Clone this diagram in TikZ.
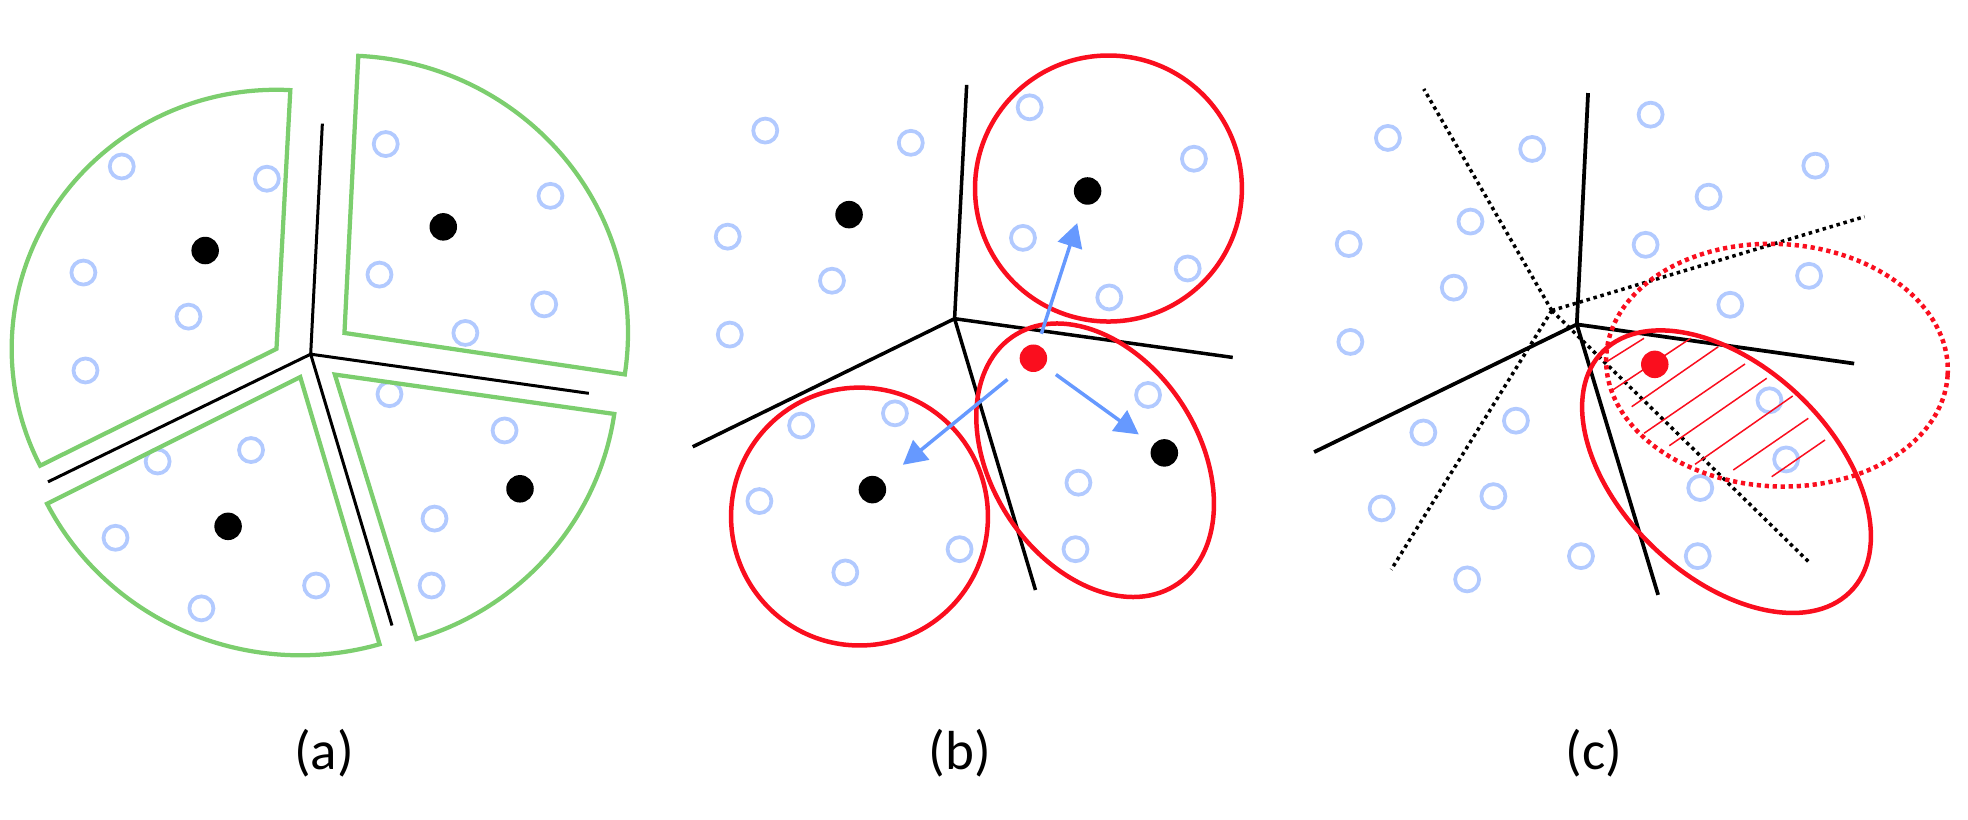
\documentclass[tikz,border=0pt]{standalone}
\usepackage{fontspec}
\setmainfont{Carlito}
\usetikzlibrary{arrows.meta}
\definecolor{pgreen}{RGB}{124,206,110}
\definecolor{pblue}{RGB}{178,202,255}
\definecolor{parrow}{RGB}{102,153,255}
\definecolor{pred}{RGB}{250,14,30}
\tikzset{
  hollow/.style={circle, draw=pblue, line width=1.5pt, minimum size=9.6pt, inner sep=0pt},
  bdot/.style={circle, fill=black, minimum size=11pt, inner sep=0pt},
  rdot/.style={circle, fill=pred, minimum size=11pt, inner sep=0pt},
  sector/.style={draw=pgreen, line width=1.7pt},
  border/.style={draw=black, line width=1.4pt},
  dotborder/.style={draw=black, line width=1.4pt, dash pattern=on 1.4pt off 1.5pt},
  redline/.style={draw=pred, line width=1.8pt},
  reddotted/.style={draw=pred, line width=1.8pt, dash pattern=on 1.7pt off 1.5pt},
  hatch/.style={draw=pred, line width=0.6pt},
  arr/.style={draw=parrow, line width=1.4pt, -{Triangle[length=9.5pt, width=10pt]}},
  lbl/.style={font=\fontsize{22}{26}\selectfont, inner sep=0pt}
}
\begin{document}
\begin{tikzpicture}[x=0.4pt,y=-0.4pt]
\useasboundingbox (0,0) rectangle (1968,820);

% ---------------- panel (a)
\begin{scope}[shift={(0,40)}, xscale=0.417, yscale=0.408]
  \foreach \p [count=\i] in {(292,310),(640,340),(200,570),(452,678),(205,810),(925,255),(1320,382),(910,575),(1305,648),(1116,718),(934,868),(1210,957),(378,1033),(602,1005),(277,1220),(758,1337),(483,1393),(1042,1173),(1035,1337)}
    \node[hollow] (a-o\i) at \p {};
  \coordinate (aJ) at (745,770);
  \coordinate (aE1) at (773,205);
  \coordinate (aE2) at (115,1083);
  \coordinate (aE3) at (1412,866);
  \coordinate (aE4) at (940,1435);
  \draw[border, line width=1.2pt] (aJ) -- (aE1) (aJ) -- (aE2) (aJ) -- (aE3) (aJ) -- (aE4);
  \draw[sector] (663,757) -- ++(-87:635) arc[start angle=-87, end angle=-206.8, radius=635] -- cycle;
  \draw[sector] (826,718) -- ++(-87.2:680) arc[start angle=-87.2, end angle=8.6, radius=680] -- cycle;
  \draw[sector] (720,826) -- ++(152.9:682) arc[start angle=152.9, end angle=73.8, radius=682] -- cycle;
  \draw[sector] (803,820) -- ++(8.2:677) arc[start angle=8.2, end angle=73.2, radius=677] -- cycle;
  \node[bdot] (a-k1) at (492,516) {};
  \node[bdot] (a-k2) at (1063,458) {};
  \node[bdot] (a-k3) at (547,1192) {};
  \node[bdot] (a-k4) at (1247,1100) {};
\end{scope}

% ---------------- panel (b)
\begin{scope}[shift={(656,40)}, xscale=0.417, yscale=0.408]
  \foreach \p [count=\i] in {(262,222),(611,252),(172,482),(422,590),(177,722),(896,165),(1290,291),(880,485),(1275,560),(1087,631),(1180,870),(348,945),(573,915),(248,1130),(728,1248),(454,1305),(1013,1085),(1006,1248)}
    \node[hollow] (b-o\i) at \p {};
  \coordinate (bJ) at (716,683);
  \coordinate (bE1) at (745,110);
  \coordinate (bE2) at (88,997);
  \coordinate (bE3) at (1383,778);
  \coordinate (bE4) at (910,1348);
  \draw[border] (bJ) -- (bE1) (bJ) -- (bE2) (bJ) -- (bE3) (bJ) -- (bE4);
  \draw[redline] (1085,364) ellipse [x radius=320, y radius=326];
  \draw[redline] (488,1168) ellipse [x radius=308, y radius=316];
  \begin{scope}[shift={(1053,1030)}, rotate=-58.5]
    \draw[redline] (0,0) ellipse [x radius=362, y radius=250];
  \end{scope}
  \node[bdot] (b-k1) at (463,428) {};
  \node[bdot] (b-k2) at (1035,370) {};
  \node[bdot] (b-k3) at (519,1102) {};
  \node[bdot] (b-k4) at (1219,1012) {};
  \node[rdot] (b-r) at (905,780) {};
  \draw[arr, shorten <=4.6pt, shorten >=7.8pt] (b-r) -- (b-k2);
  \draw[arr, shorten <=7.7pt, shorten >=10pt] (b-r) -- (b-k3);
  \draw[arr, shorten <=5.4pt, shorten >=6.9pt] (b-r) -- (b-k4);
\end{scope}

% ---------------- panel (c)
\begin{scope}[shift={(1312,40)}, xscale=0.417, yscale=0.408]
  \foreach \p [count=\i] in {(182,240),(528,267),(812,183),(1207,308),(951,384),(380,445),(88,500),(800,502),(1192,578),(340,607),(1003,649),(92,740),(1097,883),(489,933),(267,962),(1137,1028),(931,1098),(435,1118),(167,1148),(645,1265),(925,1265),(372,1322)}
    \node[hollow] (c-o\i) at \p {};
  \coordinate (cD) at (575,663);
  \coordinate (cF1) at (268,120);
  \coordinate (cF2) at (1325,433);
  \coordinate (cF3) at (190,1298);
  \coordinate (cF4) at (1192,1280);
  \draw[dotborder] (cD) -- (cF1) (cD) -- (cF2) (cD) -- (cF3) (cD) -- (cF4);
  \coordinate (cJ) at (635,697);
  \coordinate (cE1) at (662,130);
  \coordinate (cE2) at (5,1010);
  \coordinate (cE3) at (1300,793);
  \coordinate (cE4) at (830,1360);
  \draw[border, line width=1.5pt] (cJ) -- (cE1) (cJ) -- (cE2) (cJ) -- (cE3) (cJ) -- (cE4);
  \begin{scope}[shift={(1115,797)}, rotate=-3.4]
    \draw[reddotted] (0,0) ellipse [x radius=410, y radius=297];
  \end{scope}
  \begin{scope}[shift={(994,1058)}, rotate=-45]
    \draw[redline] (0,0) ellipse [x radius=418, y radius=255];
  \end{scope}
\end{scope}
% hatching of the overlap (full-size coordinates)
\draw[hatch] (1606.7,361.7) -- (1644,338.3);
\draw[hatch] (1612.7,390) -- (1690.7,338.3);
\draw[hatch] (1631.7,406.7) -- (1718.3,346.7);
\draw[hatch] (1644,433.3) -- (1745,364);
\draw[hatch] (1669.3,445.7) -- (1766.7,378.3);
\draw[hatch] (1695,464.3) -- (1792.7,396);
\draw[hatch] (1733.3,470) -- (1808.3,418.3);
\draw[hatch] (1771.7,476.7) -- (1825,440);
\begin{scope}[shift={(1312,40)}, xscale=0.417, yscale=0.408]
  \node[rdot] (c-r) at (822,795) {};
\end{scope}

% ---------------- labels
\node[lbl] (la) at (324,753) {(a)};
\node[lbl] (lb) at (960,753) {(b)};
\node[lbl] (lc) at (1594,753) {(c)};
\end{tikzpicture}
\end{document}
